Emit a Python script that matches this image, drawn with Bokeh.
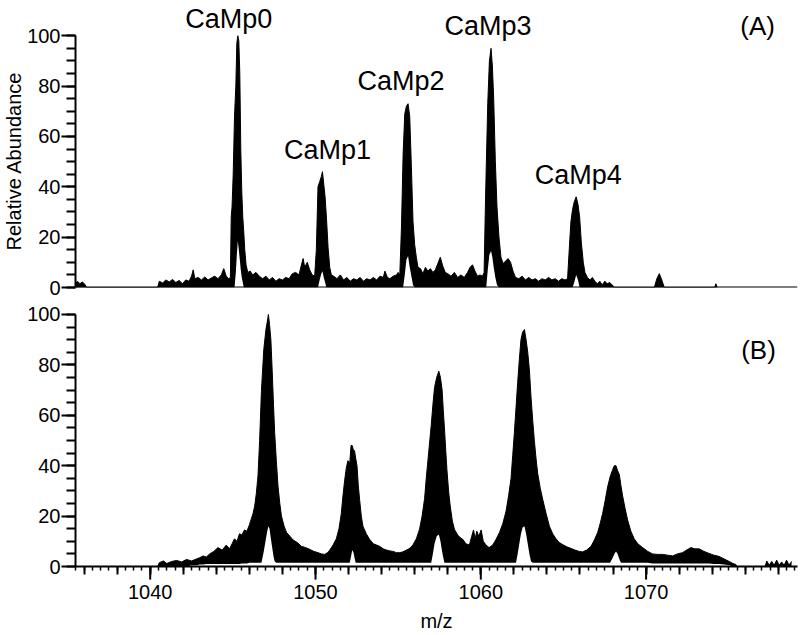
import math
from bokeh.plotting import figure
from bokeh.layouts import column
from bokeh.models import (ColumnDataSource, SingleIntervalTicker, FixedTicker,
                          Span, Label, LabelSet, Range1d, Title)
from bokeh.embed import file_html
from bokeh.resources import INLINE
from bokeh.core.properties import value

FONT = "Liberation Sans"

# ---------------- data ----------------
# Panel (A): m/z, upper and lower envelope of the dense trace (relative abundance)
mz_a = [1035.45, 1035.6, 1035.75, 1035.9, 1036.05, 1036.15,
        1040.45, 1040.55, 1040.75, 1040.95, 1041.15, 1041.35, 1041.55, 1041.75, 1041.95, 1042.15,
        1042.35, 1042.5, 1042.6, 1042.7, 1042.9, 1043.1, 1043.3, 1043.5, 1043.7, 1043.9,
        1044.1, 1044.3, 1044.45, 1044.6, 1044.75, 1044.85,
        1044.9, 1044.95, 1045.02, 1045.1, 1045.18, 1045.24, 1045.3, 1045.36, 1045.42, 1045.48,
        1045.54, 1045.6, 1045.66, 1045.72, 1045.8, 1045.9,
        1046.05, 1046.2, 1046.4, 1046.6, 1046.8, 1047.0, 1047.2, 1047.4, 1047.6, 1047.8,
        1048.0, 1048.2, 1048.4, 1048.6, 1048.8, 1049.0, 1049.15, 1049.25, 1049.35, 1049.5,
        1049.65, 1049.8, 1049.95,
        1050.05, 1050.15, 1050.25, 1050.35, 1050.42, 1050.5, 1050.58, 1050.66, 1050.76, 1050.86, 1050.96,
        1051.1, 1051.3, 1051.5, 1051.7, 1051.9, 1052.1, 1052.3, 1052.5, 1052.7, 1052.9,
        1053.1, 1053.3, 1053.5, 1053.7, 1053.9, 1054.1, 1054.2, 1054.35, 1054.5, 1054.7, 1054.9, 1055.0,
        1055.1, 1055.2, 1055.3, 1055.4, 1055.5, 1055.6, 1055.7, 1055.8, 1055.9, 1056.0, 1056.1, 1056.2,
        1056.35, 1056.5, 1056.65, 1056.8, 1056.95, 1057.1, 1057.25, 1057.4, 1057.55, 1057.7,
        1057.85, 1058.0, 1058.2, 1058.4, 1058.6, 1058.8, 1059.0, 1059.2, 1059.35, 1059.5,
        1059.65, 1059.8, 1059.95, 1060.1, 1060.2,
        1060.27, 1060.33, 1060.42, 1060.52, 1060.62, 1060.7, 1060.78, 1060.88, 1060.98, 1061.1, 1061.22,
        1061.35, 1061.5, 1061.65, 1061.8, 1061.95, 1062.1, 1062.3, 1062.5, 1062.7, 1062.9,
        1063.1, 1063.3, 1063.5, 1063.7, 1063.9, 1064.1, 1064.3, 1064.5, 1064.7, 1064.9, 1065.1, 1065.25,
        1065.35, 1065.45, 1065.55, 1065.65, 1065.77, 1065.88, 1065.98, 1066.08, 1066.2, 1066.3,
        1066.45, 1066.6, 1066.75, 1066.9, 1067.05, 1067.2, 1067.35, 1067.5, 1067.65, 1067.8, 1067.95, 1068.1,
        1070.5, 1070.65, 1070.8, 1070.95, 1071.1,
        1074.15, 1074.22, 1074.3]
upper_a = [1.5, 2.5, 1.5, 2.2, 1.2, 0.0,
           0.0, 2.5, 1.8, 3.0, 2.2, 3.2, 2.0, 2.8, 1.5, 3.0,
           2.5, 4.5, 7.0, 3.5, 4.0, 3.0, 4.2, 3.0, 3.8, 4.5,
           3.5, 5.0, 7.5, 4.5, 3.5, 4.0,
           28, 32, 45, 68, 80, 97, 100, 98, 85, 55,
           38, 28, 22, 15, 9, 6,
           6.5, 5.0, 6.0, 4.5, 3.5, 4.5, 3.0, 4.0, 2.5, 3.5,
           3.0, 4.0, 3.5, 5.5, 6.0, 5.0, 9.0, 11.5, 8.0, 10.0,
           7.0, 5.0, 4.5,
           15, 40, 42, 44, 46, 41, 36, 28, 16, 8, 5,
           4.5, 3.5, 5.0, 3.0, 4.0, 2.5, 3.5, 3.0, 4.0, 2.5,
           3.5, 3.0, 4.0, 3.0, 4.5, 4.0, 6.5, 4.0, 3.5, 4.5, 5.0, 6.0,
           5, 24, 53, 69, 72, 73, 68, 48, 26, 17, 12, 8,
           7.5, 5.5, 8.0, 6.5, 7.5, 6.0, 7.0, 9.5, 12.0, 8.5,
           6.0, 5.5, 4.5, 6.0, 4.0, 5.0, 4.0, 6.0, 8.0, 9.0,
           6.5, 4.5, 5.0, 4.5, 6.0,
           30, 48, 73, 90, 95, 88, 75, 50, 32, 20, 12,
           9.5, 10.5, 11.5, 10.0, 6.5, 4.0, 3.5, 4.5, 3.0, 4.0,
           3.0, 3.5, 2.5, 3.5, 3.0, 4.0, 3.0, 3.5, 2.5, 3.5, 3.0, 3.5,
           15, 26, 31, 34, 36, 33, 28, 18, 10, 6,
           4.0, 3.0, 4.0, 2.5, 1.5, 2.5, 1.0, 2.5, 1.5, 2.0, 1.0, 0.0,
           0.0, 3.5, 5.5, 3.0, 0.0,
           0.0, 1.5, 0.0]
lower_a = [0, 0, 0, 0, 0, 0,
           0, 0, 0, 0, 0, 0, 0, 0, 0, 0,
           0, 0, 0, 0, 0, 0, 0, 0, 0, 0,
           0, 0, 0, 0, 0, 0,
           0, 0, 0, 0, 6, 13, 18.5, 15, 11, 7,
           4, 2, 0, 0, 0, 0,
           0, 0, 0, 0, 0, 0, 0, 0, 0, 0,
           0, 0, 0, 0, 0, 0, 0, 0, 0, 0,
           0, 0, 0,
           0, 0, 3, 5.5, 6.5, 4, 2, 0, 0, 0, 0,
           0, 0, 0, 0, 0, 0, 0, 0, 0, 0,
           0, 0, 0, 0, 0, 0, 0, 0, 0, 0, 0, 0,
           0, 0, 0, 5, 11, 12.5, 8, 4.5, 1, 0, 0, 0,
           0, 0, 0, 0, 0, 0, 0, 0, 0, 0,
           0, 0, 0, 0, 0, 0, 0, 0, 0, 0,
           0, 0, 0, 0, 0,
           0, 0, 7, 13, 14.5, 12, 8, 4, 1, 0, 0,
           0, 0, 0, 0, 0, 0, 0, 0, 0, 0,
           0, 0, 0, 0, 0, 0, 0, 0, 0, 0, 0, 0,
           0, 0, 0, 2, 5, 3, 0, 0, 0, 0,
           0, 0, 0, 0, 0, 0, 0, 0, 0, 0, 0, 0,
           0, 0, 0, 0, 0,
           0, 0, 0]

# Panel (B)
mz_b = [1040.45, 1040.55, 1040.8, 1041.0, 1041.3, 1041.6, 1041.9, 1042.2, 1042.5, 1042.8,
        1043.0, 1043.2, 1043.4, 1043.6, 1043.85, 1044.1, 1044.35, 1044.6, 1044.8, 1044.95,
        1045.1, 1045.25, 1045.4, 1045.55, 1045.7, 1045.85, 1046.0, 1046.12, 1046.22, 1046.32,
        1046.42, 1046.52, 1046.62, 1046.73, 1046.87, 1047.0, 1047.08, 1047.15, 1047.22, 1047.3,
        1047.39, 1047.46, 1047.53, 1047.63, 1047.73, 1047.84, 1047.94, 1048.1, 1048.25, 1048.45,
        1048.65, 1048.9, 1049.15, 1049.4, 1049.65, 1049.9, 1050.15, 1050.35, 1050.56, 1050.72,
        1050.86, 1051.06, 1051.26, 1051.42, 1051.56, 1051.66, 1051.76, 1051.86, 1051.96, 1052.07,
        1052.15, 1052.22, 1052.3, 1052.36, 1052.43, 1052.51, 1052.59, 1052.67, 1052.77, 1052.87,
        1053.07, 1053.27, 1053.5, 1053.7, 1053.88, 1054.1, 1054.3, 1054.5, 1054.68, 1054.9,
        1055.1, 1055.28, 1055.5, 1055.7, 1055.89, 1056.1, 1056.29, 1056.45, 1056.6, 1056.7,
        1056.8, 1056.9, 1057.0, 1057.1, 1057.2, 1057.33, 1057.46, 1057.56, 1057.66, 1057.73,
        1057.8, 1057.88, 1057.95, 1058.05, 1058.15, 1058.28, 1058.41, 1058.6, 1058.75, 1058.91,
        1059.1, 1059.31, 1059.45, 1059.56, 1059.66, 1059.76, 1059.88, 1060.02, 1060.15, 1060.32,
        1060.5, 1060.72, 1060.9, 1061.13, 1061.33, 1061.53, 1061.68, 1061.83, 1061.93, 1062.03,
        1062.13, 1062.23, 1062.33, 1062.43, 1062.53, 1062.64, 1062.74, 1062.84, 1062.94, 1063.04,
        1063.14, 1063.24, 1063.34, 1063.44, 1063.6, 1063.75, 1063.95, 1064.15, 1064.35, 1064.55,
        1064.75, 1064.95, 1065.2, 1065.45, 1065.7, 1065.95, 1066.16, 1066.4, 1066.67, 1066.87,
        1067.07, 1067.22, 1067.37, 1067.52, 1067.67, 1067.82, 1067.98, 1068.08, 1068.18, 1068.28,
        1068.38, 1068.48, 1068.58, 1068.73, 1068.88, 1069.08, 1069.28, 1069.5, 1069.79, 1070.1,
        1070.39, 1070.7, 1070.99, 1071.3, 1071.6, 1071.9, 1072.2, 1072.45, 1072.71, 1072.95,
        1073.21, 1073.5, 1073.81, 1074.1, 1074.42, 1074.72, 1075.03, 1075.25, 1075.43, 1075.5,
        1077.2, 1077.3, 1077.45, 1077.6, 1077.75, 1077.9, 1078.05, 1078.2, 1078.35, 1078.5, 1078.65, 1078.8]
upper_b = [0, 1.5, 2.2, 1.2, 2.0, 2.4, 1.8, 2.8, 2.2, 3.0,
           3.5, 4.2, 3.8, 5.0, 6.0, 7.5, 6.5, 8.5, 7.0, 9.0,
           11.0, 10.0, 13.0, 12.5, 14.5, 14.0, 16.5, 19.0, 21.0, 24.0,
           29, 36, 50, 70, 86, 94, 97, 100, 96, 90,
           76, 64, 53, 42, 32, 25, 20, 16, 13.5, 12,
           10.5, 9.5, 8.0, 7.5, 6.8, 6.0, 5.5, 5.0, 4.8, 5.5,
           6.5, 8.5, 11, 15, 21, 28, 34, 39, 42, 41,
           48, 48, 46, 46, 43, 40, 32, 26.5, 20, 16,
           13, 10.8, 9, 8.5, 8, 7, 6.5, 6.2, 6, 5.5,
           5.5, 5.8, 6.5, 7.2, 8.5, 11, 14.7, 20, 27, 35,
           42, 49, 56, 64, 71, 75, 77.5, 75, 70, 62,
           55, 46, 38.5, 30, 24, 18, 14.7, 12.5, 11.5, 10.8,
           9, 8.5, 12, 14.5, 11, 14, 12, 14.5, 10, 8.5,
           7.5, 8.5, 10.5, 13.5, 17, 22, 28, 35, 44, 53,
           63, 73, 82, 90, 93, 94, 90, 85, 78, 67,
           58, 50, 43, 37, 31, 26.5, 21, 16, 13, 11,
           9.5, 8.7, 7.8, 7.2, 6.5, 6.0, 5.8, 6.5, 8.0, 10.5,
           13.5, 17, 21, 26, 31.5, 35.5, 38.5, 40, 40, 38,
           36.5, 32, 28, 23, 18.5, 14, 11, 9, 7.5, 6,
           5, 4.8, 4.8, 4.5, 4.2, 5, 5.5, 6.5, 7.5, 7,
           7, 6, 5.2, 4.5, 4, 3, 2, 1.2, 0.8, 0,
           0, 2.2, 0.5, 2.0, 0.5, 2.5, 0.5, 1.8, 0.5, 2.5, 0.5, 2.0]
lower_b = [0, 0, 0, 0, 0, 0, 0, 0, 0.5, 0.5,
           0.8, 0.8, 1, 1, 1, 1, 1, 1, 1, 1,
           1, 1, 1, 1.2, 1.2, 1.2, 1.5, 1.5, 1.5, 1.5,
           1.5, 1.5, 1.5, 1.5, 6, 11, 14, 16, 15, 11,
           7, 4, 2, 1.5, 1.5, 1.5, 1.5, 1.5, 1.5, 1.5,
           1.5, 1.5, 1.5, 1.5, 1.5, 1.5, 1.5, 1.5, 1.5, 1.5,
           1.5, 1.5, 1.5, 1.5, 1.5, 1.5, 1.5, 1.5, 1.5, 1.5,
           4, 6.5, 5.5, 3.5, 1.5, 1.5, 1.5, 1.5, 1.5, 1.5,
           1.5, 1.5, 1.5, 1.5, 1.5, 1.5, 1.5, 1.5, 1.5, 1.5,
           1.5, 1.5, 1.5, 1.5, 1.5, 1.5, 1.5, 1.5, 1.5, 1.5,
           1.5, 1.5, 1.5, 5, 9, 12, 12.7, 10, 6, 3.5,
           1.5, 1.5, 1.5, 1.5, 1.5, 1.5, 1.5, 1.5, 1.5, 1.5,
           1.5, 1.5, 1.5, 1.5, 1.5, 1.5, 1.5, 1.5, 1.5, 1.5,
           1.5, 1.5, 1.5, 1.5, 1.5, 1.5, 1.5, 1.5, 1.5, 1.5,
           1.5, 5, 9, 13, 15.5, 16, 13, 9, 5, 2,
           1.5, 1.5, 1.5, 1.5, 1.5, 1.5, 1.5, 1.5, 1.5, 1.5,
           1.5, 1.5, 1.5, 1.5, 1.5, 1.5, 1.5, 1.5, 1.5, 1.5,
           1.5, 1.5, 1.5, 1.5, 1.5, 1.5, 3.5, 5, 6, 5,
           3, 1.5, 1.5, 1.5, 1.5, 1.5, 1.5, 1.5, 1.5, 1.5,
           1.2, 1.2, 1.2, 1.2, 1.2, 1.2, 1.2, 1.2, 1.2, 1.2,
           1.2, 1.2, 1.2, 1, 1, 0.8, 0.5, 0, 0, 0,
           0, 0, 0, 0, 0, 0, 0, 0, 0, 0, 0, 0]

# Peak annotations of panel (A)
peak_names = ["CaMp0", "CaMp1", "CaMp2", "CaMp3", "CaMp4"]
peak_mz = [1045.3, 1050.42, 1055.6, 1060.62, 1065.77]
peak_top = [100, 46, 73, 95, 36]

# labelled x ticks
x_major_labels = [1040, 1050, 1060, 1070]

assert len(mz_a) == len(upper_a) == len(lower_a)
assert len(mz_b) == len(upper_b) == len(lower_b)

# ---------------- layout / style ----------------
X_START, X_END = 1035.48, 1079.16
W = 799
LEFT = 72
RIGHT = 2


def style_y(p):
    ax = p.yaxis[0]
    ax.ticker = SingleIntervalTicker(interval=20, num_minor_ticks=4)
    ax.bounds = (0, 100)
    ax.axis_line_width = 2
    ax.axis_line_color = "black"
    ax.major_tick_line_width = 2
    ax.minor_tick_line_width = 2
    ax.major_tick_line_color = "black"
    ax.minor_tick_line_color = "black"
    ax.major_tick_out = 14
    ax.major_tick_in = 0
    ax.minor_tick_out = 9
    ax.minor_tick_in = 0
    ax.major_label_standoff = 1
    ax.major_label_text_font = FONT
    ax.major_label_text_font_size = "20px"
    ax.major_label_text_color = "black"


def common(p):
    p.grid.visible = False
    p.outline_line_color = None
    p.background_fill_color = "white"
    p.border_fill_color = "white"


# Panel A
p1 = figure(width=W, height=299, x_range=Range1d(X_START, X_END), y_range=Range1d(0, 114.0),
            output_backend="svg", toolbar_location=None, x_axis_location=None,
            min_border_left=LEFT, min_border_right=RIGHT, min_border_top=0, min_border_bottom=12)
common(p1)
style_y(p1)
# y-axis title, placed so that it is centred on the 0-100 part of the axis
p1.add_layout(Title(text="Relative Abundance", align="left", offset=37, standoff=0,
                    text_font=FONT, text_font_size="20px", text_font_style="normal",
                    text_color="black"), "left")

p1.add_layout(Span(location=0, dimension="width", line_color="black", line_width=2))
p1.varea(x=mz_a, y1=lower_a, y2=upper_a, fill_color="black")
p1.line(x=mz_a, y=upper_a, line_color="black", line_width=1)

lab_src = ColumnDataSource(dict(x=peak_mz, y=peak_top, text=peak_names,
                                dx=[-9, 5, -7, -3, 2], dy=[8, 13, 14, 13, 13]))
p1.add_layout(LabelSet(x="x", y="y", text="text", source=lab_src, x_offset="dx", y_offset="dy",
                       text_align="center", text_baseline="alphabetic",
                       text_font=value(FONT), text_font_size=value("27px"), text_color="black"))
p1.add_layout(Label(x=1076.75, y=104, text="(A)", text_align="center", text_baseline="alphabetic",
                    text_font=FONT, text_font_size="26px", text_color="black"))

# Panel B
p2 = figure(width=W, height=335, x_range=p1.x_range, y_range=Range1d(0, 105.95),
            output_backend="svg", toolbar_location=None,
            min_border_left=LEFT, min_border_right=RIGHT, min_border_top=0, min_border_bottom=0)
common(p2)
style_y(p2)
xa = p2.xaxis[0]
two_ticks = list(range(1036, 1080, 2))
half_ticks = [1035.5 + 0.5 * i for i in range(88) if 1035.5 + 0.5 * i <= 1079.0]
xa.ticker = FixedTicker(ticks=two_ticks, minor_ticks=half_ticks)
xa.major_label_overrides = {t: ("" if t not in x_major_labels else str(t)) for t in two_ticks}
xa.axis_line_width = 2
xa.axis_line_color = "black"
xa.major_tick_line_width = 2
xa.minor_tick_line_width = 1.5
xa.major_tick_line_color = "black"
xa.minor_tick_line_color = "black"
xa.major_tick_out = 8
xa.major_tick_in = 0
xa.minor_tick_out = 4
xa.minor_tick_in = 0
xa.major_label_standoff = 10
xa.major_label_text_font = FONT
xa.major_label_text_font_size = "20px"
xa.major_label_text_color = "black"
xa.axis_label = "m/z"
xa.axis_label_standoff = 8
xa.axis_label_text_font = FONT
xa.axis_label_text_font_size = "20px"
xa.axis_label_text_font_style = "normal"
xa.axis_label_text_color = "black"

# longer ticks at the labelled positions
p2.segment(x0=x_major_labels, y0=[0] * 4, x1=x_major_labels, y1=[-5.2] * 4,
           line_color="black", line_width=2, level="overlay")

p2.varea(x=mz_b, y1=lower_b, y2=upper_b, fill_color="black")
p2.line(x=mz_b, y=upper_b, line_color="black", line_width=1)
p2.add_layout(Label(x=1076.8, y=86, text="(B)", text_align="center", text_baseline="alphabetic",
                    text_font=FONT, text_font_size="26px", text_color="black"))

layout = column(p1, p2, spacing=0)
open("out.html", "w").write(file_html(layout, INLINE))
